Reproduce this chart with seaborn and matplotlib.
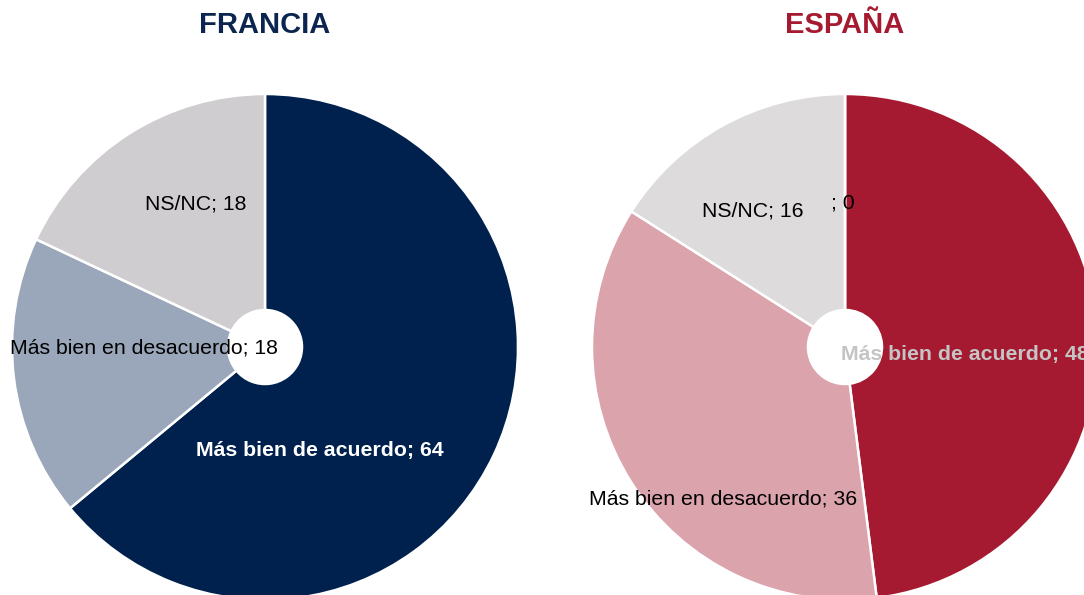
import matplotlib
matplotlib.use("Agg")
import matplotlib.pyplot as plt
import seaborn as sns

# Data
francia_labels = ["Más bien de acuerdo", "Más bien en desacuerdo", "NS/NC"]
francia_values = [64, 18, 18]
espana_labels = ["Más bien de acuerdo", "Más bien en desacuerdo", "NS/NC", ""]
espana_values = [48, 36, 16, 0]

# Styling
francia_colors = ["#00214d", "#9aa7ba", "#d0cdd0"]
espana_colors = ["#a61a31", "#dba3ab", "#dddbdc", "#dddbdc"]
francia_text = [("white", "bold"), ("black", "normal"), ("black", "normal")]
espana_text = [("#c4c4c4", "bold"), ("black", "normal"), ("black", "normal"), ("black", "normal")]
# label positions (pie radius units, relative to centre)
francia_pos = [(0.217, -0.411), (-0.478, -0.004), (-0.273, 0.565)]
espana_pos = [(0.474, -0.028), (-0.482, -0.601), (-0.364, 0.538), (-0.008, 0.569)]

sns.set_theme(style="white")
plt.rcParams["font.family"] = ["Liberation Sans", "DejaVu Sans"]

W, H = 1084, 595
fig = plt.figure(figsize=(W / 100, H / 100), dpi=100)
R = 253
HOLE = 37 / R


def draw_pie(cx, cy, values, labels, colors, styles, positions, title, title_color):
    # axes placed in pixel coords so the pie can be clipped by the figure edge
    ax = fig.add_axes([(cx - R) / W, (H - cy - R) / H, 2 * R / W, 2 * R / H])
    ax.pie(values, colors=colors, startangle=90, counterclock=False,
           wedgeprops=dict(width=1 - HOLE, edgecolor="white", linewidth=1.8))
    ax.set_xlim(-1, 1)
    ax.set_ylim(-1, 1)
    ax.set_aspect("equal")
    ax.axis("off")
    for lab, val, (c, w), (x, y) in zip(labels, values, styles, positions):
        ax.text(x, y, f"{lab}; {val}", color=c, fontweight=w, fontsize=15.3,
                ha="center", va="center", clip_on=False)
    fig.text(cx / W, 1 - 25 / H, title, color=title_color, fontsize=21,
             fontweight="bold", ha="center", va="center")


draw_pie(265, 347, francia_values, francia_labels, francia_colors, francia_text,
         francia_pos, "FRANCIA", "#0b2550")
draw_pie(845, 347, espana_values, espana_labels, espana_colors, espana_text,
         espana_pos, "ESPAÑA", "#a61a31")

fig.savefig("out.png", dpi=100)
